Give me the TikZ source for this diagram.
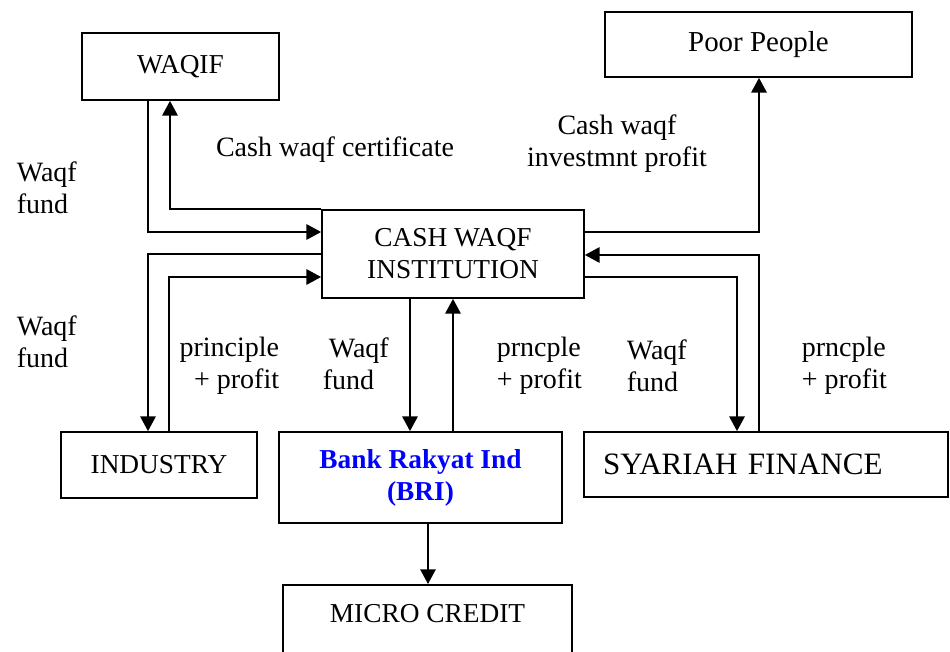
\documentclass[tikz,border=0pt]{standalone}
\usepackage{fontspec}
\setmainfont{Liberation Serif}
\usetikzlibrary{arrows.meta}
\definecolor{briblue}{RGB}{0,0,255}
\tikzset{
  box/.style={draw, line width=1.3pt, inner sep=0pt, align=center, font=\fontsize{20.5}{24}\selectfont},
  lbl/.style={inner sep=0pt, font=\fontsize{21}{24}\selectfont},
}

\begin{document}
\begin{tikzpicture}[x=0.75pt, y=-0.75pt, line width=1.3pt, >={Triangle[length=11pt,width=11.5pt]}]
  \useasboundingbox (0,0) rectangle (950,652);

    \begin{scope}[every node/.style={box}]
      \node [minimum width=147.75pt, minimum height=50.25pt] (waqif) at (180.5,66.5) {WAQIF};
      \node [minimum width=230.25pt, minimum height=48.75pt, font=\fontsize{21.7}{24}\selectfont] (poor) at (758.5,44.5) {Poor People};
      \node [minimum width=196.5pt, minimum height=66pt] (cash) at (453,254) {CASH WAQF\\INSTITUTION};
      \node [minimum width=147pt, minimum height=49.5pt] (industry) at (159,465) {INDUSTRY};
      \node [minimum width=212.25pt, minimum height=68.25pt, text=briblue, font=\fontsize{20.5}{24}\selectfont\bfseries] (bri) at (420.5,477.5) {Bank Rakyat Ind\\(BRI)};
      \node [minimum height=48.75pt, inner xsep=14.25pt, text width=244.5pt, align=left, font=\fontsize{23.3}{26}\selectfont] (syariah) at (766,464.5) {SYARIAH FINANCE};
      \node [anchor=north, minimum width=216.75pt, inner ysep=14pt, text height=14pt, text depth=60pt] (micro) at (427.5,584) {MICRO CREDIT};
    \end{scope}

    \node [lbl, align=left, anchor=west] (wf1) at (16,188) {Waqf\\fund};
    \node [lbl, align=left, anchor=west] (wf2) at (16,342) {Waqf\\fund};
    \node [lbl] (cert) at (335,150) {Cash waqf certificate};
    \node [lbl, align=center] (invest) at (617,144) {Cash waqf\\investmnt profit};
    \node [lbl, align=right, anchor=east] (pp1) at (280,366) {principle\\+ profit};
    \node [lbl, align=left, anchor=west] (wf3) at (322,364) {\hspace*{4.5pt}Waqf\\fund};
    \node [lbl, align=left, anchor=west] (pp2) at (496,366) {prncple\\+ profit};
    \node [lbl, align=left, anchor=west] (wf4) at (626,366) {Waqf\\fund};
    \node [lbl, align=left, anchor=west] (pp3) at (801,366) {prncple\\+ profit};

    \draw [->] (waqif.south -| 148,0) |- (cash.west |- 0,232);
    \draw [->] (cash.north west) -| (waqif.south -| 170,0);
    \draw [->] (cash.west |- 0,254) -| (industry.north -| 148,0);
    \draw [->] (industry.north -| 169,0) |- (cash.west |- 0,277);
    \draw [->] (cash.south -| 410,0) -- (bri.north -| 410,0);
    \draw [->] (bri.north -| 453,0) -- (cash.south -| 453,0);
    \draw [->] (cash.east |- 0,232) -| (poor.south -| 759,0);
    \draw [->] (syariah.north -| 759,0) |- (cash.east |- 0,255);
    \draw [->] (cash.east |- 0,277) -| (syariah.north -| 737,0);
    \draw [->] (bri.south -| 428,0) -- (micro.north -| 428,0);
\end{tikzpicture}
\end{document}
